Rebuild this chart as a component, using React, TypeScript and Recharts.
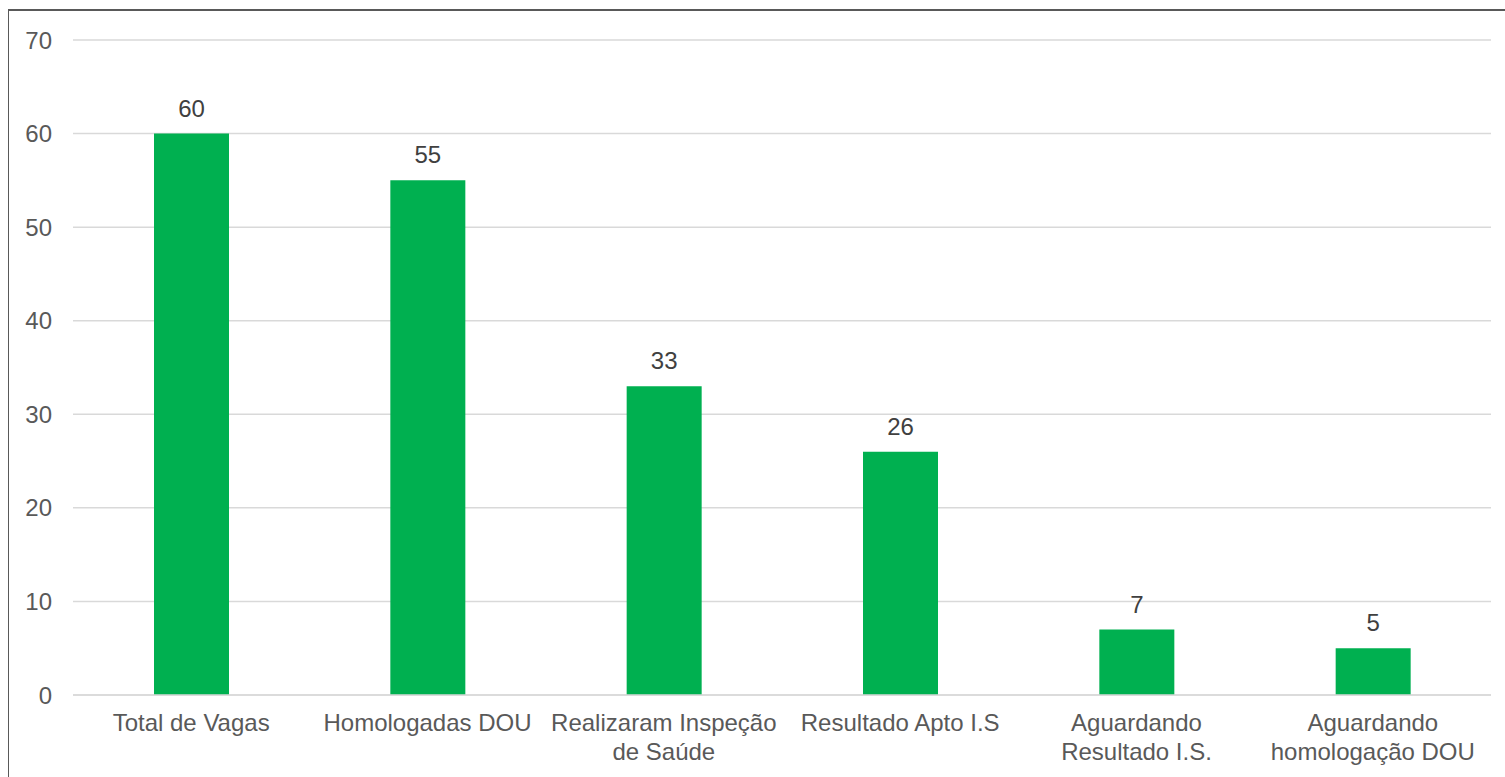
import React from "react";
import { BarChart, Bar, XAxis, YAxis, CartesianGrid, LabelList } from "recharts";

const categories = [
  "Total de Vagas",
  "Homologadas DOU",
  "Realizaram Inspeção\nde Saúde",
  "Resultado Apto I.S",
  "Aguardando\nResultado I.S.",
  "Aguardando\nhomologação DOU",
];
const values = [60, 55, 33, 26, 7, 5];
const yTicks = [0, 10, 20, 30, 40, 50, 60, 70];

const data = categories.map((name, i) => ({ name, value: values[i] }));

const FONT = "'Liberation Sans', Arial, sans-serif";

function CategoryTick(props: any) {
  const { x, y, payload } = props;
  const lines = String(payload.value).split("\n");
  return (
    <text x={x} y={y} textAnchor="middle" fill="#595959" fontSize={24} fontFamily={FONT}>
      {lines.map((line, i) => (
        <tspan key={i} x={x} y={y + 28 + i * 29}>
          {line}
        </tspan>
      ))}
    </text>
  );
}

export default function App() {
  return (
    <div
      style={{
        position: "fixed",
        left: 0,
        top: 0,
        width: 1505,
        height: 777,
        overflow: "hidden",
        background: "#ffffff",
      }}
    >
      <div
        style={{
          position: "absolute",
          left: 8,
          top: 9,
          width: 1600,
          height: 900,
          borderTop: "2px solid #595959",
          borderLeft: "1px solid #595959",
        }}
      />
      <div style={{ position: "absolute", left: 0, top: 0 }}>
        <BarChart
          width={1505}
          height={777}
          data={data}
          margin={{ top: 40, right: 14, left: 0, bottom: 0 }}
          barCategoryGap={0}
        >
          <CartesianGrid vertical={false} stroke="#d9d9d9" strokeWidth={1.5} />
          <XAxis
            dataKey="name"
            height={82}
            axisLine={{ stroke: "#d9d9d9", strokeWidth: 1.5 }}
            tickLine={false}
            interval={0}
            tick={<CategoryTick />}
          />
          <YAxis
            width={73}
            domain={[0, 70]}
            ticks={yTicks}
            axisLine={false}
            tickLine={false}
            tickSize={0}
            tickMargin={21}
            tick={{ fill: "#595959", fontSize: 24, fontFamily: FONT }}
          />
          <Bar dataKey="value" fill="#00b050" barSize={75} isAnimationActive={false}>
            <LabelList
              dataKey="value"
              position="top"
              offset={17}
              fill="#404040"
              fontSize={24}
              fontFamily={FONT}
            />
          </Bar>
        </BarChart>
      </div>
    </div>
  );
}
